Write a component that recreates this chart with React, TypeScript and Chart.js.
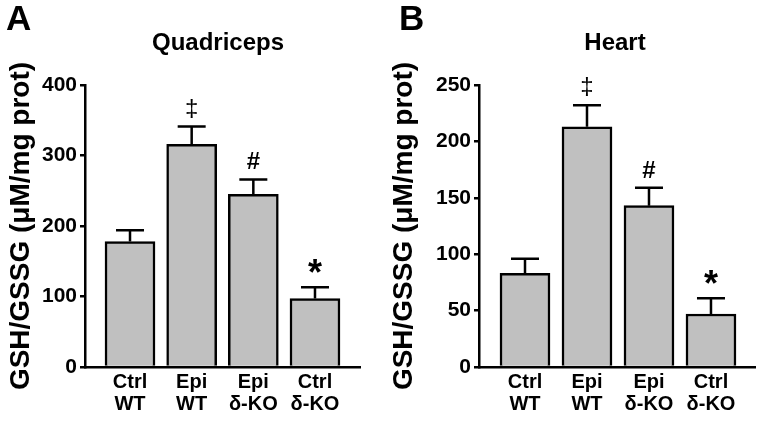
import React, { useEffect, useRef } from 'react';
import { Chart, registerables } from 'chart.js';
Chart.register(...registerables);

// ---- data ----
const categories: string[][] = [['Ctrl', 'WT'], ['Epi', 'WT'], ['Epi', 'δ-KO'], ['Ctrl', 'δ-KO']];
const quadValues = [178, 316, 245, 97];
const quadErrors = [16, 25, 21, 16];
const heartValues = [83, 213, 143, 47];
const heartErrors = [13, 19, 16, 14];
const markers = ['', '‡', '#', '*'];
const quadTicks = [0, 100, 200, 300, 400];
const heartTicks = [0, 50, 100, 150, 200, 250];
const yTitle = 'GSH/GSSG (μM/mg prot)';

const FONT = '"Liberation Sans", Arial, sans-serif';

type PanelProps = {
  letter: string;
  title: string;
  titleX: number;
  values: number[];
  errors: number[];
  ticks: number[];
  left: number;
  width: number;
  axisWidth: number;
  rightPad: number;
  xMin: number;
  xMax: number;
};

function Panel(p: PanelProps) {
  const ref = useRef<HTMLCanvasElement | null>(null);
  useEffect(() => {
    if (!ref.current) return;
    const markFonts: Record<string, string> = {
      '‡': `24px ${FONT}`,
      '#': `bold 24px ${FONT}`,
      '*': `bold 36px ${FONT}`,
    };
    const markGap: Record<string, number> = { '‡': 9, '#': 10, '*': 14 };
    const overlay = {
      id: 'overlay',
      afterDatasetsDraw(chart: any) {
        const { ctx, scales } = chart;
        const x = scales.x;
        const y = scales.y;
        ctx.save();
        ctx.strokeStyle = '#000';
        ctx.lineWidth = 2.5;
        p.values.forEach((v, i) => {
          const px = x.getPixelForValue(i);
          const top = y.getPixelForValue(v);
          const et = y.getPixelForValue(v + p.errors[i]);
          ctx.beginPath();
          ctx.moveTo(px, top);
          ctx.lineTo(px, et);
          ctx.moveTo(px - 14, et);
          ctx.lineTo(px + 14, et);
          ctx.stroke();
          const m = markers[i];
          if (m) {
            ctx.font = markFonts[m];
            ctx.fillStyle = '#000';
            ctx.textAlign = 'center';
            ctx.textBaseline = 'alphabetic';
            const mt = ctx.measureText(m);
            const base = et - markGap[m] - mt.actualBoundingBoxDescent;
            ctx.fillText(m, px, base);
          }
        });
        ctx.restore();
      },
      afterDraw(chart: any) {
        const { ctx } = chart;
        ctx.save();
        ctx.fillStyle = '#000';
        ctx.textBaseline = 'alphabetic';
        ctx.textAlign = 'left';
        ctx.font = `bold 35px ${FONT}`;
        ctx.fillText(p.letter, p.letter === 'A' ? 6 : 16, 30);
        ctx.textAlign = 'center';
        ctx.font = `bold 24px ${FONT}`;
        ctx.fillText(p.title, p.titleX, 50);
        ctx.restore();
      },
    };
    const chart = new Chart(ref.current, {
      type: 'bar',
      data: {
        datasets: [
          {
            data: p.values.map((v, i) => ({ x: i, y: v })),
            backgroundColor: '#c0c0c0',
            borderColor: '#000',
            borderWidth: 2.5,
            borderSkipped: 'bottom',
            barThickness: 50,
          },
        ],
      },
      options: {
        animation: false,
        responsive: false,
        devicePixelRatio: 1,
        layout: { padding: { top: 85, left: 0, right: p.rightPad, bottom: 0 } },
        plugins: { legend: { display: false }, tooltip: { enabled: false }, title: { display: false } },
        scales: {
          x: {
            type: 'linear',
            offset: false,
            min: p.xMin,
            max: p.xMax,
            afterBuildTicks: (s: any) => {
              s.ticks = categories.map((_, i) => ({ value: i }));
            },
            afterFit: (s: any) => {
              s.height = 54;
            },
            grid: { display: false, drawTicks: false, offset: false },
            border: { display: true, color: '#000', width: 2.5 },
            ticks: {
              color: '#000',
              font: { family: FONT, size: 20, weight: 'bold', lineHeight: 1.12 },
              padding: 4,
              maxRotation: 0,
              autoSkip: false,
              callback: (v: any) => categories[v as number],
            },
          },
          y: {
            type: 'linear',
            min: p.ticks[0],
            max: p.ticks[p.ticks.length - 1],
            afterBuildTicks: (s: any) => {
              s.ticks = p.ticks.map((t) => ({ value: t }));
            },
            afterFit: (s: any) => {
              s.width = p.axisWidth;
            },
            grid: { drawOnChartArea: false, drawTicks: true, tickLength: 5, color: '#000', lineWidth: 2.5 },
            border: { display: true, color: '#000', width: 2.5 },
            ticks: {
              color: '#000',
              font: { family: FONT, size: 21, weight: 'bold' },
              padding: 3,
            },
            title: {
              display: true,
              text: yTitle,
              color: '#000',
              font: { family: FONT, size: 28, weight: 'bold', lineHeight: 1.2 },
              padding: { top: 4, bottom: 0 },
            },
          },
        },
      },
      plugins: [overlay],
    } as any);
    return () => chart.destroy();
  }, []);
  return (
    <canvas
      ref={ref}
      width={p.width}
      height={421}
      style={{ position: 'absolute', left: p.left, top: 0, width: p.width, height: 421 }}
    />
  );
}

export default function App() {
  return (
    <div style={{ position: 'absolute', left: 0, top: 0, width: 763, height: 421, background: '#fff', overflow: 'hidden' }}>
      <Panel
        letter="A"
        title="Quadriceps"
        titleX={218}
        values={quadValues}
        errors={quadErrors}
        ticks={quadTicks}
        left={0}
        width={383}
        axisWidth={85}
        rightPad={23}
        xMin={-0.73}
        xMax={3.73}
      />
      <Panel
        letter="B"
        title="Heart"
        titleX={232}
        values={heartValues}
        errors={heartErrors}
        ticks={heartTicks}
        left={383}
        width={380}
        axisWidth={96}
        rightPad={8}
        xMin={-0.742}
        xMax={3.71}
      />
    </div>
  );
}
